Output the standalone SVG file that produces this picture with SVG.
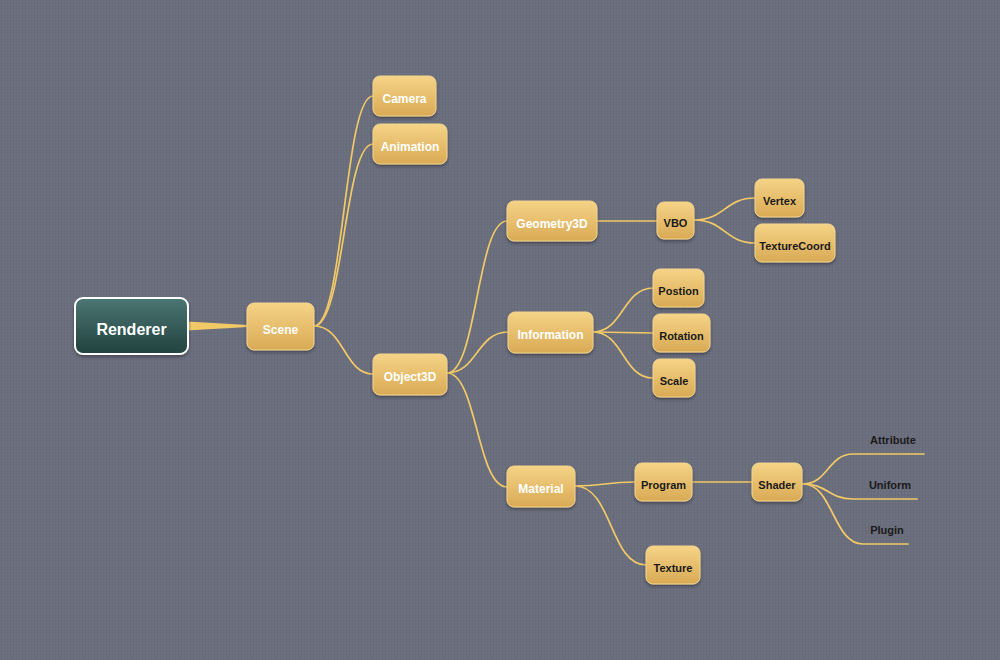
<svg xmlns="http://www.w3.org/2000/svg" width="1000" height="660" viewBox="0 0 1000 660">
<defs>
<pattern id="linen" width="6" height="6" patternUnits="userSpaceOnUse">
<rect width="6" height="6" fill="#6a6e7d"/>
<path d="M0 1.5H6M0 4.5H6" stroke="#727684" stroke-width="0.6"/>
<path d="M1.5 0V6M4.5 0V6" stroke="#646877" stroke-width="0.6"/>
</pattern>
<linearGradient id="gold" x1="0" y1="0" x2="0" y2="1">
<stop offset="0" stop-color="#f5d386"/>
<stop offset="1" stop-color="#d9aa55"/>
</linearGradient>
<linearGradient id="teal" x1="0" y1="0" x2="0" y2="1">
<stop offset="0" stop-color="#4b7673"/>
<stop offset="1" stop-color="#21423f"/>
</linearGradient>
<filter id="sh" x="-20%" y="-20%" width="140%" height="150%">
<feDropShadow dx="0" dy="2" stdDeviation="1.5" flood-color="#2a2c35" flood-opacity="0.55"/>
</filter>
</defs>
<style>
.n{fill:url(#gold);stroke:#f3d590;stroke-width:1;filter:url(#sh)}
.w{font-family:"Liberation Sans","DejaVu Sans",sans-serif;font-weight:bold;font-size:12px;fill:#ffffff;text-anchor:middle}
.b{font-family:"Liberation Sans","DejaVu Sans",sans-serif;font-weight:bold;font-size:11px;fill:#1a1a1a;text-anchor:middle}
.c{fill:none;stroke:#f2c967;stroke-width:1.7;stroke-linecap:round}
</style>
<rect width="1000" height="660" fill="url(#linen)"/>
<g id="connectors">
<polygon points="187,321.5 187,330.5 248,327 248,325" fill="#f2c967"/>
<path class="c" d="M314,326 C344,326 344,96 373,96"/>
<path class="c" d="M314,326 C344,326 344,144 373,144"/>
<path class="c" d="M314,326 C344,326 344,374 373,374"/>
<path class="c" d="M447,373 C477,373 477,221 507,221"/>
<path class="c" d="M447,373 C477,373 477,332 508,332"/>
<path class="c" d="M447,373 C477,373 477,487 507,487"/>
<path class="c" d="M597,221 L657,221"/>
<path class="c" d="M694,220 C725,220 725,198 755,198"/>
<path class="c" d="M694,220 C725,220 725,243 755,243"/>
<path class="c" d="M593,332 C623,332 623,288 653,288"/>
<path class="c" d="M593,332 L653,333"/>
<path class="c" d="M593,332 C623,332 623,378 653,378"/>
<path class="c" d="M575,486 C605,486 605,482 635,482"/>
<path class="c" d="M575,486 C612,486 610,565 646,565"/>
<path class="c" d="M692,482 L752,482"/>
<path class="c" d="M803,484 C828,484 828,454 853,454 L924,454"/>
<path class="c" d="M803,484 C828,484 828,499 853,499 L917,499"/>
<path class="c" d="M803,484 C833,484 833,544 863,544 L908,544"/>
</g>
<g id="renderer">
<rect x="75" y="298" width="113" height="56" rx="8" fill="url(#teal)" stroke="#ffffff" stroke-width="2" filter="url(#sh)"/>
<text x="131.5" y="335" class="w" style="font-size:16px">Renderer</text>
</g>
<g id="scene"><rect class="n" x="247" y="303" width="67" height="47" rx="7"/><text class="w" x="280.5" y="334">Scene</text></g>
<g id="camera"><rect class="n" x="373" y="76" width="63" height="40" rx="7"/><text class="w" x="404.5" y="103">Camera</text></g>
<g id="animation"><rect class="n" x="373" y="124" width="74" height="40" rx="7"/><text class="w" x="410" y="151">Animation</text></g>
<g id="object3d"><rect class="n" x="373" y="354" width="74" height="41" rx="7"/><text class="w" x="410" y="381">Object3D</text></g>
<g id="geometry3d"><rect class="n" x="507" y="201" width="90" height="40" rx="7"/><text class="w" x="552" y="228">Geometry3D</text></g>
<g id="vbo"><rect class="n" x="657" y="202" width="37" height="37" rx="7"/><text class="b" x="675.5" y="227">VBO</text></g>
<g id="vertex"><rect class="n" x="755" y="179" width="49" height="38" rx="7"/><text class="b" x="779.5" y="205">Vertex</text></g>
<g id="texturecoord"><rect class="n" x="755" y="224" width="80" height="38" rx="7"/><text class="b" x="795" y="250">TextureCoord</text></g>
<g id="information"><rect class="n" x="508" y="312" width="85" height="41" rx="7"/><text class="w" x="550.5" y="339">Information</text></g>
<g id="postion"><rect class="n" x="653" y="269" width="51" height="38" rx="7"/><text class="b" x="678.5" y="295">Postion</text></g>
<g id="rotation"><rect class="n" x="653" y="314" width="57" height="38" rx="7"/><text class="b" x="681.5" y="340">Rotation</text></g>
<g id="scale"><rect class="n" x="653" y="359" width="42" height="38" rx="7"/><text class="b" x="674" y="385">Scale</text></g>
<g id="material"><rect class="n" x="507" y="466" width="68" height="41" rx="7"/><text class="w" x="541" y="493">Material</text></g>
<g id="program"><rect class="n" x="635" y="463" width="57" height="38" rx="7"/><text class="b" x="663.5" y="489">Program</text></g>
<g id="shader"><rect class="n" x="752" y="463" width="50" height="38" rx="7"/><text class="b" x="777" y="489">Shader</text></g>
<g id="texture"><rect class="n" x="646" y="546" width="54" height="38" rx="7"/><text class="b" x="673" y="572">Texture</text></g>
<g id="attribute"><text class="b" x="893" y="444">Attribute</text></g>
<g id="uniform"><text class="b" x="890" y="489">Uniform</text></g>
<g id="plugin"><text class="b" x="887" y="534">Plugin</text></g>
</svg>
